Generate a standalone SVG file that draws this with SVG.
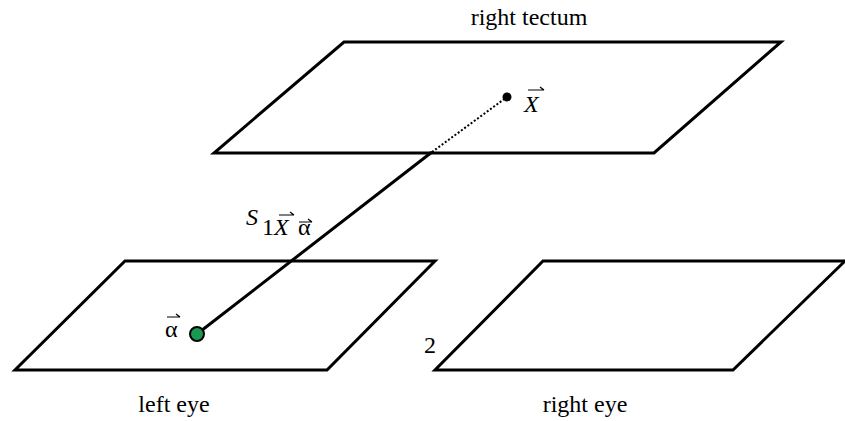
<svg xmlns="http://www.w3.org/2000/svg" width="845" height="421" viewBox="0 0 845 421">
<style>
.pl{fill:none;stroke:#000;stroke-width:3;stroke-linejoin:miter}
.t{font-family:"Liberation Serif",serif;font-size:24px;fill:#000}
.i{font-style:italic}
.vec{stroke:#000;stroke-width:1.2;fill:none}
</style>
<rect width="845" height="421" fill="#fff"/>
<g id="right-tectum">
<polygon class="pl" points="344,42 781,42 654,153 214,153"/>
<text class="t" x="529" y="25" text-anchor="middle">right tectum</text>
</g>
<g id="left-eye">
<polygon class="pl" points="125,261 435,261 327,370 15,370"/>
<text class="t" x="174" y="412" text-anchor="middle">left eye</text>
</g>
<g id="right-eye">
<polygon class="pl" points="543,261 845,261 733,370 435,370"/>
<text class="t" x="430" y="353" text-anchor="middle">2</text>
<text class="t" x="585" y="412" text-anchor="middle">right eye</text>
</g>
<g id="connectors">
<line x1="197" y1="334" x2="432" y2="152" stroke="#000" stroke-width="3"/>
<line x1="432" y1="152" x2="507" y2="97" stroke="#000" stroke-width="2" stroke-dasharray="2,2"/>
</g>
<g id="point-X">
<circle cx="507" cy="97" r="4.5" fill="#000"/>
<text class="t i" x="524" y="112">X</text>
<path class="vec" d="M528,90 H544 M540,87 L544,90"/>
</g>
<g id="point-alpha">
<circle cx="197" cy="334" r="7" fill="#1a9a50" stroke="#000" stroke-width="2"/>
<text class="t" x="165" y="337">α</text>
<path class="vec" d="M167,317 H180 M176,314 L180,317"/>
</g>
<g id="label-S">
<text class="t i" x="246" y="225">S</text>
<text class="t" x="262" y="235">1</text>
<text class="t i" x="274" y="235">X</text>
<path class="vec" d="M279,215 H294 M290,212 L294,215"/>
<text class="t" x="298" y="235">α</text>
<path class="vec" d="M299,222 H312 M308,219 L312,222"/>
</g>
</svg>
